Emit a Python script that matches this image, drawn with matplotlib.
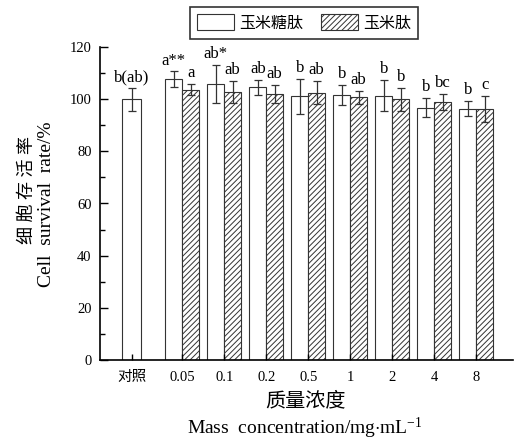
import matplotlib
matplotlib.use("Agg")
import matplotlib.pyplot as plt
from matplotlib.patches import Patch
from matplotlib.ticker import MultipleLocator

plt.rcParams['font.family'] = ['Liberation Serif', 'Noto Sans CJK SC']
plt.rcParams['mathtext.fontset'] = 'custom'
plt.rcParams['mathtext.rm'] = 'Liberation Serif'
plt.rcParams['mathtext.it'] = 'Liberation Serif:italic'
plt.rcParams['hatch.linewidth'] = 0.7
plt.rcParams['hatch.color'] = '#333333'

# data
conc_labels = ['对照', '0.05', '0.1', '0.2', '0.5', '1', '2', '4', '8']
control_mean = 100.0
control_err = 4.4
control_sig = 'b(ab)'
glyco_mean = [107.6, 105.8, 104.5, 101.2, 101.6, 101.4, 96.8, 96.4]
glyco_err = [3.1, 7.3, 2.9, 6.7, 4.0, 6.0, 3.8, 3.0]
glyco_sig = ['a**', 'ab*', 'ab', 'b', 'b', 'b', 'b', 'b']
pep_mean = [103.7, 102.9, 102.1, 102.5, 100.7, 99.9, 99.0, 96.2]
pep_err = [2.1, 4.2, 3.5, 4.5, 2.5, 4.3, 3.0, 5.1]
pep_sig = ['a', 'ab', 'ab', 'ab', 'ab', 'b', 'bc', 'c']

fig = plt.figure(figsize=(5.18, 4.4), dpi=100)
ax = fig.add_axes([0.193, 0.182, 0.797, 0.711])

w = 0.4
edge = '#333333'
err_kw = dict(ecolor='#333333', elinewidth=0.9, capsize=3, capthick=0.9)

x_ctrl = 0.0
x_grp = [1.2 + i for i in range(len(glyco_mean))]
x_g = [x - w / 2 for x in x_grp]
x_p = [x + w / 2 for x in x_grp]

ax.bar(x_ctrl, control_mean, width=0.45, color='white', edgecolor=edge,
       linewidth=0.8, yerr=control_err, error_kw=err_kw)
ax.bar(x_g, glyco_mean, width=w, color='white', edgecolor=edge,
       linewidth=0.8, yerr=glyco_err, error_kw=err_kw)
ax.bar(x_p, pep_mean, width=w, color='white', edgecolor=edge,
       linewidth=0.8, hatch='//////', yerr=pep_err, error_kw=err_kw)

# significance letters
ax.annotate(control_sig, (x_ctrl, control_mean + control_err), xytext=(0, 2),
            textcoords='offset points', ha='center', va='bottom', fontsize=12)
for xs, m, e, s in zip(x_g, glyco_mean, glyco_err, glyco_sig):
    ax.annotate(s, (xs, m + e), xytext=(0, 2), textcoords='offset points',
                ha='center', va='bottom', fontsize=12)
for xs, m, e, s in zip(x_p, pep_mean, pep_err, pep_sig):
    ax.annotate(s, (xs, m + e), xytext=(0, 2), textcoords='offset points',
                ha='center', va='bottom', fontsize=12)

ax.set_xlim(-0.76, 9.07)
ax.set_ylim(0, 120)
ax.set_xticks([x_ctrl] + x_grp)
ax.set_xticklabels(conc_labels, fontsize=10.5)
ax.yaxis.set_major_locator(MultipleLocator(20))
ax.yaxis.set_minor_locator(MultipleLocator(10))
ax.tick_params(axis='y', which='major', direction='in', length=6, width=1, labelsize=10.5, pad=6)
ax.tick_params(axis='y', which='minor', direction='in', length=3.5, width=1)
ax.tick_params(axis='x', which='major', direction='in', length=4, width=1, pad=8)

for side in ['top', 'right']:
    ax.spines[side].set_visible(False)
for side in ['left', 'bottom']:
    ax.spines[side].set_linewidth(1.2)

# axis titles
fig.text(27 / 518, 1 - 190 / 440, '细 胞 存 活 率', rotation=90, ha='center', va='center', fontsize=13)
fig.text(47 / 518, 1 - 204 / 440, 'Cell  survival  rate/%', rotation=90, ha='center', va='center', fontsize=14)
fig.text(305 / 518, 1 - 402 / 440, '质量浓度', ha='center', va='center', fontsize=14.5)
fig.text(305 / 518, 1 - 428 / 440, r'Mass  concentration/mg$\cdot$mL$^{-1}$',
         ha='center', va='center', fontsize=14)

handles = [Patch(facecolor='white', edgecolor=edge, linewidth=0.8),
           Patch(facecolor='white', edgecolor=edge, linewidth=0.8, hatch='//////')]
leg = fig.legend(handles, ['玉米糖肽', '玉米肽'], loc='center', bbox_to_anchor=(0.587, 0.948),
                 ncol=2, fontsize=11.5, frameon=True, fancybox=False, handlelength=2.3,
                 handleheight=1.2, handletextpad=0.35, columnspacing=1.1,
                 borderpad=0.45, borderaxespad=0)
leg.get_frame().set_edgecolor('black')
leg.get_frame().set_linewidth(1.2)

fig.savefig('out.png', dpi=100)
